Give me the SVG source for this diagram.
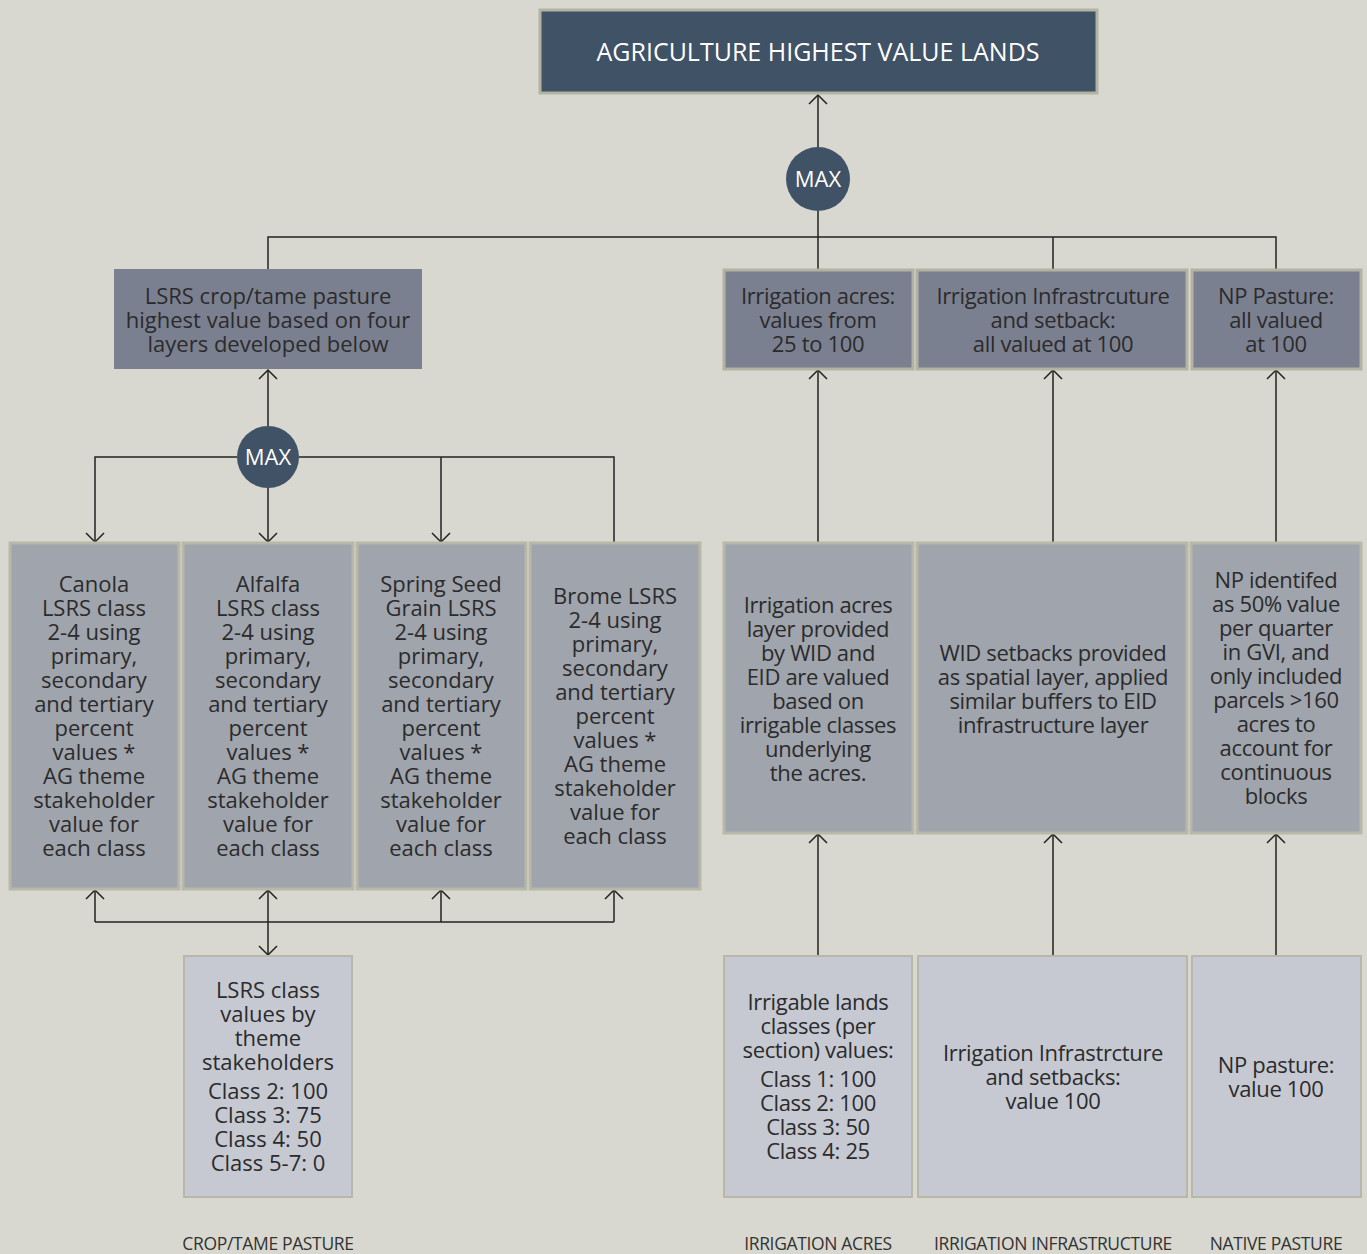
<svg xmlns="http://www.w3.org/2000/svg" width="1367" height="1254" viewBox="0 0 1367 1254">
<defs>
<marker id="arr" viewBox="-12 -10 14 20" refX="0" refY="0" markerWidth="14" markerHeight="20" markerUnits="userSpaceOnUse" orient="auto-start-reverse">
<path d="M-9,-9 L0,0 L-9,9" fill="none" stroke="#222" stroke-width="1.5"/>
</marker>
<style>
.bg{fill:#d8d8d0}
.title{fill:#3f5266;stroke:#b3b2a3;stroke-width:3}
.mid{fill:#7b8091}
.midb{fill:#7b8091;stroke:#b3b2a3;stroke-width:3}
.crop{fill:#a0a4ad;stroke:#b8b8a8;stroke-width:3}
.low{fill:#c6c9d2;stroke:#b8b8a8;stroke-width:2}
.circ{fill:#3f5266}
text{font-family:"Open Sans","DejaVu Sans",sans-serif;text-anchor:middle}
.t{font-size:22px;fill:#2b2b2b}
.tc{font-size:22px;fill:#2b2b2b;letter-spacing:-0.35px}
.w{fill:#ffffff}
.lab{font-size:17.5px;fill:#333;letter-spacing:-0.35px}
.ln{fill:none;stroke:#222;stroke-width:1.5}
</style>
</defs>
<rect class="bg" x="0" y="0" width="1367" height="1254"/>

<g id="connectors">
<path class="ln" d="M818,147 L818,95" marker-end="url(#arr)"/>
<path class="ln" d="M818,211 L818,237"/>
<path class="ln" d="M268,269 L268,237 L1276,237 L1276,269"/>
<path class="ln" d="M818,237 L818,269"/>
<path class="ln" d="M1053,237 L1053,269"/>
<path class="ln" d="M268,426 L268,370" marker-end="url(#arr)"/>
<path class="ln" d="M237,457 L95,457 L95,542" marker-end="url(#arr)"/>
<path class="ln" d="M268,488 L268,542" marker-end="url(#arr)"/>
<path class="ln" d="M299,457 L614,457 L614,543"/>
<path class="ln" d="M441,457 L441,542" marker-end="url(#arr)"/>
<path class="ln" d="M95,922 L614,922"/>
<path class="ln" d="M95,922 L95,890" marker-end="url(#arr)"/>
<path class="ln" d="M441,922 L441,890" marker-end="url(#arr)"/>
<path class="ln" d="M614,922 L614,890" marker-end="url(#arr)"/>
<path class="ln" d="M268,890 L268,955" marker-start="url(#arr)" marker-end="url(#arr)"/>
<path class="ln" d="M818,543 L818,370" marker-end="url(#arr)"/>
<path class="ln" d="M1053,543 L1053,370" marker-end="url(#arr)"/>
<path class="ln" d="M1276,543 L1276,370" marker-end="url(#arr)"/>
<path class="ln" d="M818,955 L818,834" marker-end="url(#arr)"/>
<path class="ln" d="M1053,955 L1053,834" marker-end="url(#arr)"/>
<path class="ln" d="M1276,955 L1276,834" marker-end="url(#arr)"/>
</g>

<g id="top">
<rect class="title" x="540" y="10" width="557" height="83"/>
<text class="w" x="818" y="61" font-size="25">AGRICULTURE HIGHEST VALUE LANDS</text>
</g>
<g id="max1">
<circle class="circ" cx="818" cy="179" r="32"/>
<text class="w" x="818" y="187" font-size="22">MAX</text>
</g>
<g id="lsrs-high">
<rect class="mid" x="114" y="269" width="308" height="100"/>
<text class="t" x="268" y="304">LSRS crop/tame pasture</text>
<text class="t" x="268" y="328">highest value based on four</text>
<text class="t" x="268" y="352">layers developed below</text>
</g>
<g id="irr-acres">
<rect class="midb" x="724" y="270" width="189" height="99"/>
<text class="tc" x="818" y="304">Irrigation acres:</text>
<text class="tc" x="818" y="328">values from</text>
<text class="tc" x="818" y="352">25 to 100</text>
</g>
<g id="irr-infra">
<rect class="midb" x="917" y="270" width="270" height="99"/>
<text class="tc" x="1053" y="304">Irrigation Infrastrcuture</text>
<text class="tc" x="1053" y="328">and setback:</text>
<text class="tc" x="1053" y="352">all valued at 100</text>
</g>
<g id="np-pasture">
<rect class="midb" x="1192" y="270" width="169" height="99"/>
<text class="tc" x="1276" y="304">NP Pasture:</text>
<text class="tc" x="1276" y="328">all valued</text>
<text class="tc" x="1276" y="352">at 100</text>
</g>
<g id="max2">
<circle class="circ" cx="268" cy="457" r="31"/>
<text class="w" x="268" y="465" font-size="22">MAX</text>
</g>

<g id="canola">
<rect class="crop" x="10" y="543" width="169" height="346"/>
<text class="t" x="94" y="592">Canola</text>
<text class="t" x="94" y="616">LSRS class</text>
<text class="t" x="94" y="640">2-4 using</text>
<text class="t" x="94" y="664">primary,</text>
<text class="t" x="94" y="688">secondary</text>
<text class="t" x="94" y="712">and tertiary</text>
<text class="t" x="94" y="736">percent</text>
<text class="t" x="94" y="760">values *</text>
<text class="t" x="94" y="784">AG theme</text>
<text class="t" x="94" y="808">stakeholder</text>
<text class="t" x="94" y="832">value for</text>
<text class="t" x="94" y="856">each class</text>
</g>
<g id="alfalfa">
<rect class="crop" x="183" y="543" width="170" height="346"/>
<text class="t" x="268" y="592">Alfalfa</text>
<text class="t" x="268" y="616">LSRS class</text>
<text class="t" x="268" y="640">2-4 using</text>
<text class="t" x="268" y="664">primary,</text>
<text class="t" x="268" y="688">secondary</text>
<text class="t" x="268" y="712">and tertiary</text>
<text class="t" x="268" y="736">percent</text>
<text class="t" x="268" y="760">values *</text>
<text class="t" x="268" y="784">AG theme</text>
<text class="t" x="268" y="808">stakeholder</text>
<text class="t" x="268" y="832">value for</text>
<text class="t" x="268" y="856">each class</text>
</g>
<g id="spring">
<rect class="crop" x="357" y="543" width="169" height="346"/>
<text class="t" x="441" y="592">Spring Seed</text>
<text class="t" x="441" y="616">Grain LSRS</text>
<text class="t" x="441" y="640">2-4 using</text>
<text class="t" x="441" y="664">primary,</text>
<text class="t" x="441" y="688">secondary</text>
<text class="t" x="441" y="712">and tertiary</text>
<text class="t" x="441" y="736">percent</text>
<text class="t" x="441" y="760">values *</text>
<text class="t" x="441" y="784">AG theme</text>
<text class="t" x="441" y="808">stakeholder</text>
<text class="t" x="441" y="832">value for</text>
<text class="t" x="441" y="856">each class</text>
</g>
<g id="brome">
<rect class="crop" x="530" y="543" width="170" height="346"/>
<text class="t" x="615" y="604">Brome LSRS</text>
<text class="t" x="615" y="628">2-4 using</text>
<text class="t" x="615" y="652">primary,</text>
<text class="t" x="615" y="676">secondary</text>
<text class="t" x="615" y="700">and tertiary</text>
<text class="t" x="615" y="724">percent</text>
<text class="t" x="615" y="748">values *</text>
<text class="t" x="615" y="772">AG theme</text>
<text class="t" x="615" y="796">stakeholder</text>
<text class="t" x="615" y="820">value for</text>
<text class="t" x="615" y="844">each class</text>
</g>

<g id="irr-layer">
<rect class="crop" x="724" y="543" width="189" height="290"/>
<text class="tc" x="818" y="613">Irrigation acres</text>
<text class="tc" x="818" y="637">layer provided</text>
<text class="tc" x="818" y="661">by WID and</text>
<text class="tc" x="818" y="685">EID are valued</text>
<text class="tc" x="818" y="709">based on</text>
<text class="tc" x="818" y="733">irrigable classes</text>
<text class="tc" x="818" y="757">underlying</text>
<text class="tc" x="818" y="781">the acres.</text>
</g>
<g id="wid">
<rect class="crop" x="917" y="543" width="270" height="290"/>
<text class="tc" x="1053" y="661">WID setbacks provided</text>
<text class="tc" x="1053" y="685">as spatial layer, applied</text>
<text class="tc" x="1053" y="709">similar buffers to EID</text>
<text class="tc" x="1053" y="733">infrastructure layer</text>
</g>
<g id="np-ident">
<rect class="crop" x="1191" y="543" width="170" height="290"/>
<text class="tc" x="1276" y="588">NP identifed</text>
<text class="tc" x="1276" y="612">as 50% value</text>
<text class="tc" x="1276" y="636">per quarter</text>
<text class="tc" x="1276" y="660">in GVI, and</text>
<text class="tc" x="1276" y="684">only included</text>
<text class="tc" x="1276" y="708">parcels &gt;160</text>
<text class="tc" x="1276" y="732">acres to</text>
<text class="tc" x="1276" y="756">account for</text>
<text class="tc" x="1276" y="780">continuous</text>
<text class="tc" x="1276" y="804">blocks</text>
</g>

<g id="lsrs-values">
<rect class="low" x="184" y="956" width="168" height="241"/>
<text class="t" x="268" y="998">LSRS class</text>
<text class="t" x="268" y="1022">values by</text>
<text class="t" x="268" y="1046">theme</text>
<text class="t" x="268" y="1070">stakeholders</text>
<text class="t" x="268" y="1099">Class 2: 100</text>
<text class="t" x="268" y="1123">Class 3: 75</text>
<text class="t" x="268" y="1147">Class 4: 50</text>
<text class="t" x="268" y="1171">Class 5-7: 0</text>
</g>
<g id="irrigable">
<rect class="low" x="724" y="956" width="188" height="241"/>
<text class="tc" x="818" y="1010">Irrigable lands</text>
<text class="tc" x="818" y="1034">classes (per</text>
<text class="tc" x="818" y="1058">section) values:</text>
<text class="tc" x="818" y="1087">Class 1: 100</text>
<text class="tc" x="818" y="1111">Class 2: 100</text>
<text class="tc" x="818" y="1135">Class 3: 50</text>
<text class="tc" x="818" y="1159">Class 4: 25</text>
</g>
<g id="infra-values">
<rect class="low" x="918" y="956" width="269" height="241"/>
<text class="tc" x="1053" y="1061">Irrigation Infrastrcture</text>
<text class="tc" x="1053" y="1085">and setbacks:</text>
<text class="tc" x="1053" y="1109">value 100</text>
</g>
<g id="np-values">
<rect class="low" x="1192" y="956" width="169" height="241"/>
<text class="tc" x="1276" y="1073">NP pasture:</text>
<text class="tc" x="1276" y="1097">value 100</text>
</g>

<g id="labels">
<text class="lab" x="268" y="1250">CROP/TAME PASTURE</text>
<text class="lab" x="818" y="1250">IRRIGATION ACRES</text>
<text class="lab" x="1053" y="1250">IRRIGATION INFRASTRUCTURE</text>
<text class="lab" x="1276" y="1250">NATIVE PASTURE</text>
</g>
</svg>
